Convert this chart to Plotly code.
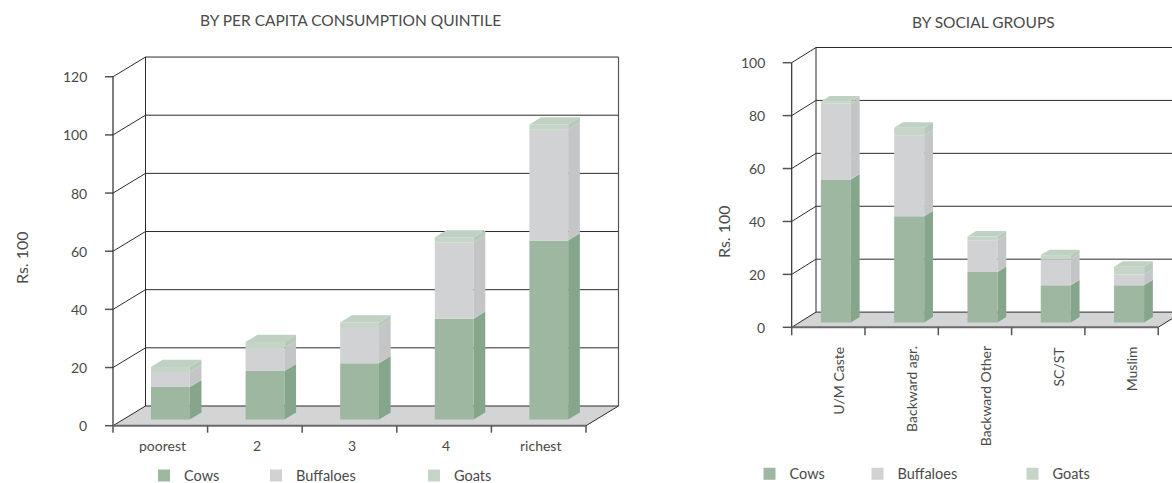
import plotly.graph_objects as go

W, H = 1172, 483

# ---------------- data ----------------
quintiles = ["poorest", "2", "3", "4", "richest"]
quintile_cows = [11.2, 16.7, 19.4, 34.7, 61.6]
quintile_buffaloes = [5.2, 7.9, 12.4, 26.3, 38.1]
quintile_goats = [1.7, 2.1, 1.6, 1.7, 1.8]
quintile_ticks = [0, 20, 40, 60, 80, 100, 120]

groups = ["U/M Caste", "Backward agr.", "Backward Other", "SC/ST", "Muslim"]
group_cows = [54.1, 40.2, 19.1, 14.1, 14.1]
group_buffaloes = [28.7, 30.6, 12.0, 9.8, 4.1]
group_goats = [0.8, 2.8, 1.4, 1.6, 2.9]
group_ticks = [0, 20, 40, 60, 80, 100]

series_names = ["Cows", "Buffaloes", "Goats"]

# ---------------- style ----------------
FRONT = {"Cows": "#9db7a1", "Buffaloes": "#d1d2d4", "Goats": "#c5d5c8"}
SIDE = {"Cows": "#86a68c", "Buffaloes": "#c4c5c7", "Goats": "#b6cab9"}
TOP = "#bed1c2"
FLOOR = "#d3d4d6"
LINE = "#2b2b2b"
AXLINE = "#555555"
TEXT = "#4a4a4a"
FONT = "Lato, 'Open Sans', sans-serif"

D0, D1, BW = 0.31, 0.67, 0.41  # bar depth span and width (category units)

fig = go.Figure()
shapes = []
annotations = []
layout_extra = {}


def line(xr, yr, x0, y0, x1, y1, color=LINE, width=1):
    shapes.append(dict(type="line", xref=xr, yref=yr, x0=x0, y0=y0, x1=x1, y1=y1,
                       line=dict(color=color, width=width), layer="below"))


def panel(idx, title, cats, data, ticks, geo, legend_keys):
    xr = "x" if idx == 1 else "x%d" % idx
    yr = "y" if idx == 1 else "y%d" % idx
    cat = geo["cat"]
    pxu = geo["pxu"]
    DX = geo["dxp"] / cat
    DY = geo["dyp"] / pxu
    N = len(cats)
    top = ticks[-1]
    a, b = geo["dom"]

    layout_extra["xaxis" if idx == 1 else "xaxis%d" % idx] = dict(
        domain=[a / W, b / W], range=[(a - geo["x0"]) / cat, (b - geo["x0"]) / cat],
        visible=False, fixedrange=True, anchor=yr)
    layout_extra["yaxis" if idx == 1 else "yaxis%d" % idx] = dict(
        domain=[0, 1], range=[(geo["y0"] - H) / pxu, geo["y0"] / pxu],
        visible=False, fixedrange=True, anchor=xr)

    # floor
    shapes.append(dict(type="path", xref=xr, yref=yr, layer="below",
                       path="M0,0 L%f,0 L%f,%f L%f,%f Z" % (N, N + DX, DY, DX, DY),
                       fillcolor=FLOOR, line=dict(width=0)))
    # walls / gridlines
    for v in ticks:
        line(xr, yr, DX, v + DY, N + DX, v + DY)
        line(xr, yr, 0, v, DX, v + DY)
        line(xr, yr, -geo["tick"] / cat, v, 0, v, AXLINE, 1.5)
        annotations.append(dict(xref=xr, yref=yr, x=-(geo["x0"] - geo["lab_r"]) / cat, y=v,
                                text=str(v), showarrow=False, xanchor="right", yanchor="middle",
                                font=dict(size=14, color=TEXT, family=FONT)))
    line(xr, yr, DX, DY, DX, top + DY)
    line(xr, yr, N + DX, DY, N + DX, top + DY, AXLINE, 1.2)
    line(xr, yr, 0, 0, 0, top, LINE, 1.2)
    line(xr, yr, 0, 0, N, 0, "#6a6a6a", 2)
    line(xr, yr, N, 0, N + DX, DY, LINE, 1)
    for i in range(N + 1):
        line(xr, yr, i, 0, i, -geo["xtick"] / pxu, AXLINE, 1.5)

    # category labels
    for i, c in enumerate(cats):
        if geo["rot"]:
            annotations.append(dict(xref=xr, yref=yr, x=i + 0.5 + geo["lab_dx"] / cat,
                                    y=-geo["lab_dy"] / pxu, text=c, textangle=-90,
                                    showarrow=False, xanchor="center", yanchor="top",
                                    font=dict(size=14, color=TEXT, family=FONT)))
        else:
            annotations.append(dict(xref=xr, yref=yr, x=i + 0.5 + geo["lab_dx"] / cat,
                                    y=-geo["lab_dy"] / pxu, text=c,
                                    showarrow=False, xanchor="center", yanchor="middle",
                                    font=dict(size=14, color=TEXT, family=FONT)))

    # bars
    cum = [0.0] * N
    ddx, ddy = (D1 - D0) * DX, (D1 - D0) * DY
    for k, name in enumerate(series_names):
        vals = data[k]
        xs = [i + 0.5 + D0 * DX for i in range(N)]
        bases = [D0 * DY + cum[i] for i in range(N)]
        fig.add_trace(go.Bar(x=xs, y=vals, base=bases, width=BW, name=name,
                             marker=dict(color=FRONT[name], line=dict(width=0)),
                             xaxis=xr, yaxis=yr, legend=legend_keys[k], showlegend=True,
                             hoverinfo="skip"))
        sx, sy = [], []
        for i in range(N):
            xrt = xs[i] + BW / 2
            b0 = bases[i]
            t0 = b0 + vals[i]
            sx += [xrt, xrt + ddx, xrt + ddx, xrt, xrt, None]
            sy += [b0, b0 + ddy, t0 + ddy, t0, b0, None]
        fig.add_trace(go.Scatter(x=sx, y=sy, mode="lines", fill="toself", fillcolor=SIDE[name],
                                 line=dict(width=0), xaxis=xr, yaxis=yr, showlegend=False,
                                 hoverinfo="skip"))
        cum = [cum[i] + vals[i] for i in range(N)]
    tx, ty = [], []
    for i in range(N):
        xl = i + 0.5 + D0 * DX - BW / 2
        xrt = xl + BW
        T = D0 * DY + cum[i]
        tx += [xl, xrt, xrt + ddx, xl + ddx, xl, None]
        ty += [T, T, T + ddy, T + ddy, T, None]
    fig.add_trace(go.Scatter(x=tx, y=ty, mode="lines", fill="toself", fillcolor=TOP,
                             line=dict(width=0), xaxis=xr, yaxis=yr, showlegend=False,
                             hoverinfo="skip"))

    # titles
    annotations.append(dict(xref="paper", yref="paper", x=geo["title_x"] / W, y=1 - geo["title_y"] / H,
                            text=title, showarrow=False, xanchor="center", yanchor="middle",
                            font=dict(size=15.5, color=TEXT, family=FONT)))
    annotations.append(dict(xref="paper", yref="paper", x=geo["ylab_x"] / W, y=1 - geo["ylab_y"] / H,
                            text="Rs. 100", textangle=-90, showarrow=False,
                            xanchor="center", yanchor="middle",
                            font=dict(size=16, color=TEXT, family=FONT)))

    # legends
    for k, key in enumerate(legend_keys):
        layout_extra[key] = dict(x=(geo["leg_x"][k] - 20) / W, y=1 - geo["leg_y"] / H,
                                 xanchor="left", yanchor="middle", orientation="h",
                                 bgcolor="rgba(0,0,0,0)", borderwidth=0,
                                 font=dict(size=14.5, color=TEXT, family=FONT))


left_geo = dict(x0=113, cat=94.6, y0=425.7, pxu=2.908, dxp=32.5, dyp=19.7, dom=(0, 660),
                tick=8, xtick=7, lab_r=89, rot=False, lab_dx=2, lab_dy=20,
                title_x=350, title_y=20, ylab_x=21, ylab_y=258,
                leg_x=[164, 276, 434], leg_y=475.5)
right_geo = dict(x0=791.7, cat=73.3, y0=327.3, pxu=2.646, dxp=24.3, dyp=15.2, dom=(680, 1172),
                 tick=9, xtick=8, lab_r=767, rot=True, lab_dx=10, lab_dy=17,
                 title_x=983, title_y=22, ylab_x=724, ylab_y=232,
                 leg_x=[769.5, 877.5, 1032.5], leg_y=473.7)

panel(1, "BY PER CAPITA CONSUMPTION QUINTILE", quintiles,
      [quintile_cows, quintile_buffaloes, quintile_goats], quintile_ticks, left_geo,
      ["legend", "legend2", "legend3"])
panel(2, "BY SOCIAL GROUPS", groups,
      [group_cows, group_buffaloes, group_goats], group_ticks, right_geo,
      ["legend4", "legend5", "legend6"])

fig.update_layout(width=W, height=H, margin=dict(l=0, r=0, t=0, b=0, autoexpand=False),
                  paper_bgcolor="white", plot_bgcolor="rgba(0,0,0,0)",
                  barmode="overlay", shapes=shapes, annotations=annotations,
                  font=dict(family=FONT, color=TEXT), **layout_extra)

fig.write_html("out.html")
